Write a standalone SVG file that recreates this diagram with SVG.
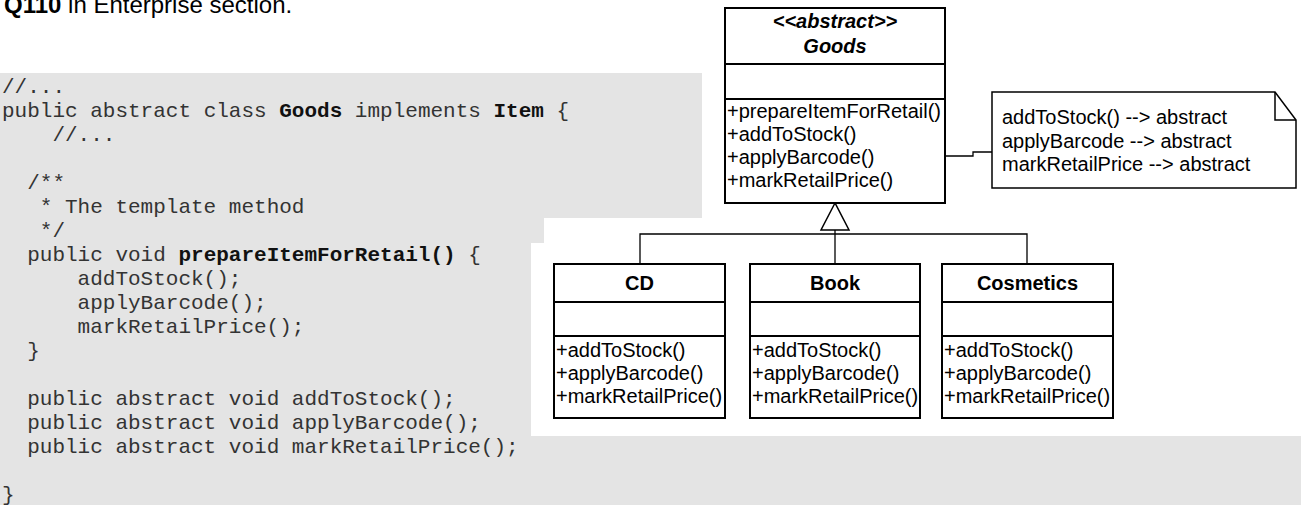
<svg xmlns="http://www.w3.org/2000/svg" width="1301" height="505" viewBox="0 0 1301 505">
<style>
.code{font-family:"Liberation Mono","Courier New",monospace;font-size:21px;fill:#333}
.b{font-weight:bold;fill:#111}
.title{font-family:"Liberation Sans",Arial,sans-serif;font-size:24px;fill:#000}
.uml{font-family:"Liberation Sans",Arial,sans-serif;font-size:20px;fill:#000}
.nm{font-weight:bold;text-anchor:middle}
.box{fill:#fff;stroke:#000;stroke-width:2}
.div{stroke:#000;stroke-width:2;fill:none}
.con{stroke:#000;stroke-width:1.3;fill:none}
</style>
<rect width="1301" height="505" fill="#fff"/>
<path d="M0,73 H702 V218 H544 V243 H531 V436 H1301 V505 H0 Z" fill="#e4e4e4"/>
<text class="title" x="4" y="13"><tspan font-weight="bold">Q110</tspan> in Enterprise section.</text>
<g id="code">
<text class="code" x="2" y="93">//...</text>
<text class="code" x="2" y="117">public abstract class <tspan class="b">Goods</tspan> implements <tspan class="b">Item</tspan> {</text>
<text class="code" x="52.4" y="141">//...</text>
<text class="code" x="27.2" y="189">/**</text>
<text class="code" x="39.8" y="213">* The template method</text>
<text class="code" x="39.8" y="237">*/</text>
<text class="code" x="27.2" y="261">public void <tspan class="b">prepareItemForRetail()</tspan> {</text>
<text class="code" x="77.6" y="285">addToStock();</text>
<text class="code" x="77.6" y="309">applyBarcode();</text>
<text class="code" x="77.6" y="333">markRetailPrice();</text>
<text class="code" x="27.2" y="357">}</text>
<text class="code" x="27.2" y="405">public abstract void addToStock();</text>
<text class="code" x="27.2" y="429">public abstract void applyBarcode();</text>
<text class="code" x="27.2" y="453">public abstract void markRetailPrice();</text>
<text class="code" x="2" y="501">}</text>
</g>
<g id="connectors">
<polyline class="con" points="945,156 973,156 973,152 992,152"/>
<polygon points="835,203 821,230 849,230" fill="#fff" stroke="#000" stroke-width="1.5"/>
<line class="con" x1="835" y1="230" x2="835" y2="264"/>
<polyline class="con" points="640,264 640,234 1027,234 1027,264"/>
</g>
<g id="Goods">
<rect class="box" x="725" y="8" width="220" height="195"/>
<line class="div" x1="725" y1="64" x2="945" y2="64"/>
<line class="div" x1="725" y1="99" x2="945" y2="99"/>
<text class="uml nm" x="835" y="28" font-style="italic">&lt;&lt;abstract&gt;&gt;</text>
<text class="uml nm" x="835" y="53" font-style="italic">Goods</text>
<text class="uml" x="727" y="118">+prepareItemForRetail()</text>
<text class="uml" x="727" y="141">+addToStock()</text>
<text class="uml" x="727" y="164">+applyBarcode()</text>
<text class="uml" x="727" y="187">+markRetailPrice()</text>
</g>
<g id="Note">
<path d="M992,92 H1275 L1296,120 V188 H992 Z" fill="#fff" stroke="#000" stroke-width="1.5"/>
<polyline points="1275,92 1275,120 1296,120" fill="none" stroke="#000" stroke-width="1.5"/>
<text class="uml" x="1002" y="124">addToStock() --&gt; abstract</text>
<text class="uml" x="1002" y="148">applyBarcode --&gt; abstract</text>
<text class="uml" x="1002" y="171">markRetailPrice --&gt; abstract</text>
</g>
<g id="CD">
<rect class="box" x="554" y="264" width="171" height="154"/>
<line class="div" x1="554" y1="302" x2="725" y2="302"/>
<line class="div" x1="554" y1="336" x2="725" y2="336"/>
<text class="uml nm" x="639.5" y="290">CD</text>
<text class="uml" x="556" y="357">+addToStock()</text>
<text class="uml" x="556" y="380">+applyBarcode()</text>
<text class="uml" x="556" y="403">+markRetailPrice()</text>
</g>
<g id="Book">
<rect class="box" x="750" y="264" width="170" height="154"/>
<line class="div" x1="750" y1="302" x2="920" y2="302"/>
<line class="div" x1="750" y1="336" x2="920" y2="336"/>
<text class="uml nm" x="835" y="290">Book</text>
<text class="uml" x="752" y="357">+addToStock()</text>
<text class="uml" x="752" y="380">+applyBarcode()</text>
<text class="uml" x="752" y="403">+markRetailPrice()</text>
</g>
<g id="Cosmetics">
<rect class="box" x="942" y="264" width="171" height="154"/>
<line class="div" x1="942" y1="302" x2="1113" y2="302"/>
<line class="div" x1="942" y1="336" x2="1113" y2="336"/>
<text class="uml nm" x="1027.5" y="290">Cosmetics</text>
<text class="uml" x="944" y="357">+addToStock()</text>
<text class="uml" x="944" y="380">+applyBarcode()</text>
<text class="uml" x="944" y="403">+markRetailPrice()</text>
</g>
</svg>
